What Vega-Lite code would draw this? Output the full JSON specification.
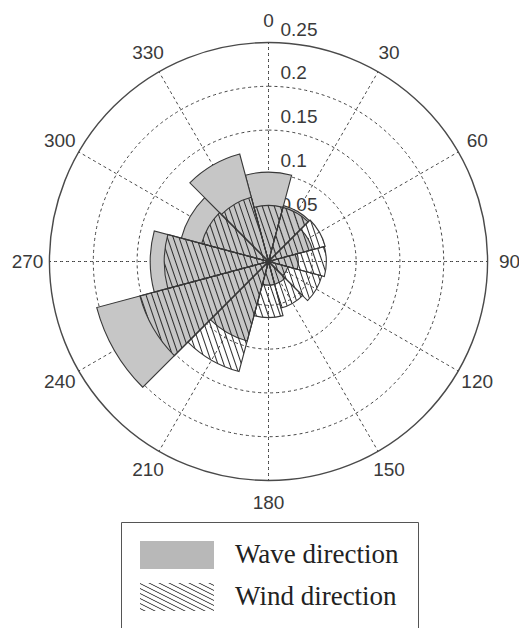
{
  "$schema": "https://vega.github.io/schema/vega-lite/v6.json",
  "autosize": {"type": "none"},
  "padding": {"left": 18, "top": 0, "right": 0, "bottom": 105},
  "width": 501,
  "height": 523,
  "background": "white",
  "view": {"stroke": null},
  "datasets": {
    "rings": [
      {"r": 0.05, "label": "0.05"},
      {"r": 0.1, "label": "0.1"},
      {"r": 0.15, "label": "0.15"},
      {"r": 0.2, "label": "0.2"},
      {"r": 0.25, "label": "0.25"}
    ],
    "spokes": [
      {"angle": 0, "label": "0"}, {"angle": 30, "label": "30"}, {"angle": 60, "label": "60"},
      {"angle": 90, "label": "90"}, {"angle": 120, "label": "120"}, {"angle": 150, "label": "150"},
      {"angle": 180, "label": "180"}, {"angle": 210, "label": "210"}, {"angle": 240, "label": "240"},
      {"angle": 270, "label": "270"}, {"angle": 300, "label": "300"}, {"angle": 330, "label": "330"}
    ],
    "rose": [
      {"series": "Wave direction", "dir": 0, "freq": 0.102},
      {"series": "Wave direction", "dir": 30, "freq": 0.066},
      {"series": "Wave direction", "dir": 60, "freq": 0.052},
      {"series": "Wave direction", "dir": 90, "freq": 0.034},
      {"series": "Wave direction", "dir": 120, "freq": 0.023},
      {"series": "Wave direction", "dir": 150, "freq": 0.027},
      {"series": "Wave direction", "dir": 180, "freq": 0.027},
      {"series": "Wave direction", "dir": 210, "freq": 0.094},
      {"series": "Wave direction", "dir": 240, "freq": 0.203},
      {"series": "Wave direction", "dir": 270, "freq": 0.135},
      {"series": "Wave direction", "dir": 300, "freq": 0.103},
      {"series": "Wave direction", "dir": 330, "freq": 0.127},
      {"series": "Wind direction", "dir": 0, "freq": 0.064},
      {"series": "Wind direction", "dir": 30, "freq": 0.064},
      {"series": "Wind direction", "dir": 60, "freq": 0.067},
      {"series": "Wind direction", "dir": 90, "freq": 0.066},
      {"series": "Wind direction", "dir": 120, "freq": 0.063},
      {"series": "Wind direction", "dir": 150, "freq": 0.055},
      {"series": "Wind direction", "dir": 180, "freq": 0.064},
      {"series": "Wind direction", "dir": 210, "freq": 0.13},
      {"series": "Wind direction", "dir": 240, "freq": 0.152},
      {"series": "Wind direction", "dir": 270, "freq": 0.119},
      {"series": "Wind direction", "dir": 300, "freq": 0.079},
      {"series": "Wind direction", "dir": 330, "freq": 0.076}
    ]
  },
  "layer": [
    {
      "data": {"name": "rings"},
      "transform": [{"filter": "datum.r < 0.24"}],
      "mark": {"type": "arc", "theta": 0, "theta2": 6.2832, "filled": false, "stroke": "#444", "strokeWidth": 1, "strokeDash": [3, 3]},
      "encoding": {
        "radius": {"field": "r", "type": "quantitative", "stack": null, "scale": {"type": "linear", "domain": [0, 0.25], "range": [0, 219], "zero": true, "nice": false}}
      }
    },
    {
      "data": {"name": "rings"},
      "transform": [{"filter": "datum.r > 0.24"}],
      "mark": {"type": "arc", "theta": 0, "theta2": 6.2832, "filled": false, "stroke": "#4a4a4a", "strokeWidth": 1.4},
      "encoding": {
        "radius": {"field": "r", "type": "quantitative", "stack": null, "scale": {"type": "linear", "domain": [0, 0.25], "range": [0, 219], "zero": true, "nice": false}}
      }
    },
    {
      "data": {"name": "spokes"},
      "mark": {"type": "arc", "filled": false, "stroke": "#444", "strokeWidth": 1, "strokeDash": [1.5, 4.5]},
      "encoding": {
        "theta": {"field": "angle", "type": "quantitative", "stack": null, "scale": {"domain": [0, 360], "range": [0, 6.283185307179586], "nice": false, "zero": true}},
        "theta2": {"field": "angle"},
        "radius": {"datum": 0.25, "type": "quantitative", "stack": null, "scale": {"type": "linear", "domain": [0, 0.25], "range": [0, 219], "zero": true, "nice": false}}
      }
    },
    {
      "data": {"name": "rings"},
      "mark": {"type": "text", "theta": 0, "align": "left", "baseline": "alphabetic", "dx": 12, "dy": -7, "font": "Liberation Sans", "fontSize": 19, "fill": "#3a3a3a"},
      "encoding": {
        "radius": {"field": "r", "type": "quantitative", "stack": null, "scale": {"type": "linear", "domain": [0, 0.25], "range": [0, 219], "zero": true, "nice": false}},
        "text": {"field": "label"}
      }
    },
    {
      "data": {"name": "spokes"},
      "mark": {"type": "text", "radius": 241, "align": "center", "baseline": "middle", "font": "Liberation Sans", "fontSize": 19, "fill": "#3a3a3a"},
      "encoding": {
        "theta": {"field": "angle", "type": "quantitative", "stack": null, "scale": {"domain": [0, 360], "range": [0, 6.283185307179586], "nice": false, "zero": true}},
        "text": {"field": "label"}
      }
    },
    {
      "data": {"name": "rose"},
      "transform": [{"filter": "datum.series === 'Wave direction'"}],
      "mark": {"type": "arc", "thetaOffset": -0.2618, "theta2Offset": 0.2618, "fill": "#c6c6c6", "stroke": "#383838", "strokeWidth": 1.1},
      "encoding": {
        "theta": {"field": "dir", "type": "quantitative", "stack": null, "scale": {"domain": [0, 360], "range": [0, 6.283185307179586], "nice": false, "zero": true}},
        "theta2": {"field": "dir"},
        "radius": {"field": "freq", "type": "quantitative", "stack": null, "scale": {"type": "linear", "domain": [0, 0.25], "range": [0, 219], "zero": true, "nice": false}}
      }
    },
    {
      "data": {"name": "rose"},
      "transform": [{"filter": "datum.series === 'Wind direction'"}],
      "mark": {"type": "arc", "thetaOffset": -0.2618, "theta2Offset": 0.2618, "stroke": "#383838", "strokeWidth": 1.1},
      "encoding": {
        "theta": {"field": "dir", "type": "quantitative", "stack": null, "scale": {"domain": [0, 360], "range": [0, 6.283185307179586], "nice": false, "zero": true}},
        "theta2": {"field": "dir"},
        "radius": {"field": "freq", "type": "quantitative", "stack": null, "scale": {"type": "linear", "domain": [0, 0.25], "range": [0, 219], "zero": true, "nice": false}},
        "fill": {
          "condition": [
            {"test": "datum.dir === 0 || datum.dir === 180", "value": {"gradient": "linear", "x1": 0, "y1": 1, "x2": 1.157, "y2": 0.239, "stops": [
              {"offset": 0.04, "color": "rgba(43,43,43,0)"}, {"offset": 0.0625, "color": "#2b2b2b"}, {"offset": 0.085, "color": "rgba(43,43,43,0)"},
              {"offset": 0.165, "color": "rgba(43,43,43,0)"}, {"offset": 0.1875, "color": "#2b2b2b"}, {"offset": 0.21, "color": "rgba(43,43,43,0)"},
              {"offset": 0.29, "color": "rgba(43,43,43,0)"}, {"offset": 0.3125, "color": "#2b2b2b"}, {"offset": 0.335, "color": "rgba(43,43,43,0)"},
              {"offset": 0.415, "color": "rgba(43,43,43,0)"}, {"offset": 0.4375, "color": "#2b2b2b"}, {"offset": 0.46, "color": "rgba(43,43,43,0)"},
              {"offset": 0.54, "color": "rgba(43,43,43,0)"}, {"offset": 0.5625, "color": "#2b2b2b"}, {"offset": 0.585, "color": "rgba(43,43,43,0)"},
              {"offset": 0.665, "color": "rgba(43,43,43,0)"}, {"offset": 0.6875, "color": "#2b2b2b"}, {"offset": 0.71, "color": "rgba(43,43,43,0)"},
              {"offset": 0.79, "color": "rgba(43,43,43,0)"}, {"offset": 0.8125, "color": "#2b2b2b"}, {"offset": 0.835, "color": "rgba(43,43,43,0)"},
              {"offset": 0.915, "color": "rgba(43,43,43,0)"}, {"offset": 0.9375, "color": "#2b2b2b"}, {"offset": 0.96, "color": "rgba(43,43,43,0)"}
            ]}},
            {"test": "datum.dir === 30 || datum.dir === 150", "value": {"gradient": "linear", "x1": 0, "y1": 1, "x2": 1.2045, "y2": 0.441, "stops": [
              {"offset": 0.0356, "color": "rgba(43,43,43,0)"}, {"offset": 0.0556, "color": "#2b2b2b"}, {"offset": 0.0756, "color": "rgba(43,43,43,0)"},
              {"offset": 0.1467, "color": "rgba(43,43,43,0)"}, {"offset": 0.1667, "color": "#2b2b2b"}, {"offset": 0.1867, "color": "rgba(43,43,43,0)"},
              {"offset": 0.2578, "color": "rgba(43,43,43,0)"}, {"offset": 0.2778, "color": "#2b2b2b"}, {"offset": 0.2978, "color": "rgba(43,43,43,0)"},
              {"offset": 0.3689, "color": "rgba(43,43,43,0)"}, {"offset": 0.3889, "color": "#2b2b2b"}, {"offset": 0.4089, "color": "rgba(43,43,43,0)"},
              {"offset": 0.48, "color": "rgba(43,43,43,0)"}, {"offset": 0.5, "color": "#2b2b2b"}, {"offset": 0.52, "color": "rgba(43,43,43,0)"},
              {"offset": 0.5911, "color": "rgba(43,43,43,0)"}, {"offset": 0.6111, "color": "#2b2b2b"}, {"offset": 0.6311, "color": "rgba(43,43,43,0)"},
              {"offset": 0.7022, "color": "rgba(43,43,43,0)"}, {"offset": 0.7222, "color": "#2b2b2b"}, {"offset": 0.7422, "color": "rgba(43,43,43,0)"},
              {"offset": 0.8133, "color": "rgba(43,43,43,0)"}, {"offset": 0.8333, "color": "#2b2b2b"}, {"offset": 0.8533, "color": "rgba(43,43,43,0)"},
              {"offset": 0.9244, "color": "rgba(43,43,43,0)"}, {"offset": 0.9444, "color": "#2b2b2b"}, {"offset": 0.9644, "color": "rgba(43,43,43,0)"}
            ]}},
            {"test": "datum.dir === 210", "value": {"gradient": "linear", "x1": 0, "y1": 1, "x2": 1.2045, "y2": 0.441, "stops": [
              {"offset": 0.016, "color": "rgba(43,43,43,0)"}, {"offset": 0.025, "color": "#2b2b2b"}, {"offset": 0.034, "color": "rgba(43,43,43,0)"},
              {"offset": 0.066, "color": "rgba(43,43,43,0)"}, {"offset": 0.075, "color": "#2b2b2b"}, {"offset": 0.084, "color": "rgba(43,43,43,0)"},
              {"offset": 0.116, "color": "rgba(43,43,43,0)"}, {"offset": 0.125, "color": "#2b2b2b"}, {"offset": 0.134, "color": "rgba(43,43,43,0)"},
              {"offset": 0.166, "color": "rgba(43,43,43,0)"}, {"offset": 0.175, "color": "#2b2b2b"}, {"offset": 0.184, "color": "rgba(43,43,43,0)"},
              {"offset": 0.216, "color": "rgba(43,43,43,0)"}, {"offset": 0.225, "color": "#2b2b2b"}, {"offset": 0.234, "color": "rgba(43,43,43,0)"},
              {"offset": 0.266, "color": "rgba(43,43,43,0)"}, {"offset": 0.275, "color": "#2b2b2b"}, {"offset": 0.284, "color": "rgba(43,43,43,0)"},
              {"offset": 0.316, "color": "rgba(43,43,43,0)"}, {"offset": 0.325, "color": "#2b2b2b"}, {"offset": 0.334, "color": "rgba(43,43,43,0)"},
              {"offset": 0.366, "color": "rgba(43,43,43,0)"}, {"offset": 0.375, "color": "#2b2b2b"}, {"offset": 0.384, "color": "rgba(43,43,43,0)"},
              {"offset": 0.416, "color": "rgba(43,43,43,0)"}, {"offset": 0.425, "color": "#2b2b2b"}, {"offset": 0.434, "color": "rgba(43,43,43,0)"},
              {"offset": 0.466, "color": "rgba(43,43,43,0)"}, {"offset": 0.475, "color": "#2b2b2b"}, {"offset": 0.484, "color": "rgba(43,43,43,0)"},
              {"offset": 0.516, "color": "rgba(43,43,43,0)"}, {"offset": 0.525, "color": "#2b2b2b"}, {"offset": 0.534, "color": "rgba(43,43,43,0)"},
              {"offset": 0.566, "color": "rgba(43,43,43,0)"}, {"offset": 0.575, "color": "#2b2b2b"}, {"offset": 0.584, "color": "rgba(43,43,43,0)"},
              {"offset": 0.616, "color": "rgba(43,43,43,0)"}, {"offset": 0.625, "color": "#2b2b2b"}, {"offset": 0.634, "color": "rgba(43,43,43,0)"},
              {"offset": 0.666, "color": "rgba(43,43,43,0)"}, {"offset": 0.675, "color": "#2b2b2b"}, {"offset": 0.684, "color": "rgba(43,43,43,0)"},
              {"offset": 0.716, "color": "rgba(43,43,43,0)"}, {"offset": 0.725, "color": "#2b2b2b"}, {"offset": 0.734, "color": "rgba(43,43,43,0)"},
              {"offset": 0.766, "color": "rgba(43,43,43,0)"}, {"offset": 0.775, "color": "#2b2b2b"}, {"offset": 0.784, "color": "rgba(43,43,43,0)"},
              {"offset": 0.816, "color": "rgba(43,43,43,0)"}, {"offset": 0.825, "color": "#2b2b2b"}, {"offset": 0.834, "color": "rgba(43,43,43,0)"},
              {"offset": 0.866, "color": "rgba(43,43,43,0)"}, {"offset": 0.875, "color": "#2b2b2b"}, {"offset": 0.884, "color": "rgba(43,43,43,0)"},
              {"offset": 0.916, "color": "rgba(43,43,43,0)"}, {"offset": 0.925, "color": "#2b2b2b"}, {"offset": 0.934, "color": "rgba(43,43,43,0)"},
              {"offset": 0.966, "color": "rgba(43,43,43,0)"}, {"offset": 0.975, "color": "#2b2b2b"}, {"offset": 0.984, "color": "rgba(43,43,43,0)"}
            ]}},
            {"test": "datum.dir === 330", "value": {"gradient": "linear", "x1": 0, "y1": 1, "x2": 1.2045, "y2": 0.441, "stops": [
              {"offset": 0.0267, "color": "rgba(43,43,43,0)"}, {"offset": 0.0417, "color": "#2b2b2b"}, {"offset": 0.0567, "color": "rgba(43,43,43,0)"},
              {"offset": 0.11, "color": "rgba(43,43,43,0)"}, {"offset": 0.125, "color": "#2b2b2b"}, {"offset": 0.14, "color": "rgba(43,43,43,0)"},
              {"offset": 0.1933, "color": "rgba(43,43,43,0)"}, {"offset": 0.2083, "color": "#2b2b2b"}, {"offset": 0.2233, "color": "rgba(43,43,43,0)"},
              {"offset": 0.2767, "color": "rgba(43,43,43,0)"}, {"offset": 0.2917, "color": "#2b2b2b"}, {"offset": 0.3067, "color": "rgba(43,43,43,0)"},
              {"offset": 0.36, "color": "rgba(43,43,43,0)"}, {"offset": 0.375, "color": "#2b2b2b"}, {"offset": 0.39, "color": "rgba(43,43,43,0)"},
              {"offset": 0.4433, "color": "rgba(43,43,43,0)"}, {"offset": 0.4583, "color": "#2b2b2b"}, {"offset": 0.4733, "color": "rgba(43,43,43,0)"},
              {"offset": 0.5267, "color": "rgba(43,43,43,0)"}, {"offset": 0.5417, "color": "#2b2b2b"}, {"offset": 0.5567, "color": "rgba(43,43,43,0)"},
              {"offset": 0.61, "color": "rgba(43,43,43,0)"}, {"offset": 0.625, "color": "#2b2b2b"}, {"offset": 0.64, "color": "rgba(43,43,43,0)"},
              {"offset": 0.6933, "color": "rgba(43,43,43,0)"}, {"offset": 0.7083, "color": "#2b2b2b"}, {"offset": 0.7233, "color": "rgba(43,43,43,0)"},
              {"offset": 0.7767, "color": "rgba(43,43,43,0)"}, {"offset": 0.7917, "color": "#2b2b2b"}, {"offset": 0.8067, "color": "rgba(43,43,43,0)"},
              {"offset": 0.86, "color": "rgba(43,43,43,0)"}, {"offset": 0.875, "color": "#2b2b2b"}, {"offset": 0.89, "color": "rgba(43,43,43,0)"},
              {"offset": 0.9433, "color": "rgba(43,43,43,0)"}, {"offset": 0.9583, "color": "#2b2b2b"}, {"offset": 0.9733, "color": "rgba(43,43,43,0)"}
            ]}},
            {"test": "datum.dir === 60 || datum.dir === 120", "value": {"gradient": "linear", "x1": 0, "y1": 1, "x2": 1.176, "y2": 0.707, "stops": [
              {"offset": 0.0267, "color": "rgba(43,43,43,0)"}, {"offset": 0.0417, "color": "#2b2b2b"}, {"offset": 0.0567, "color": "rgba(43,43,43,0)"},
              {"offset": 0.11, "color": "rgba(43,43,43,0)"}, {"offset": 0.125, "color": "#2b2b2b"}, {"offset": 0.14, "color": "rgba(43,43,43,0)"},
              {"offset": 0.1933, "color": "rgba(43,43,43,0)"}, {"offset": 0.2083, "color": "#2b2b2b"}, {"offset": 0.2233, "color": "rgba(43,43,43,0)"},
              {"offset": 0.2767, "color": "rgba(43,43,43,0)"}, {"offset": 0.2917, "color": "#2b2b2b"}, {"offset": 0.3067, "color": "rgba(43,43,43,0)"},
              {"offset": 0.36, "color": "rgba(43,43,43,0)"}, {"offset": 0.375, "color": "#2b2b2b"}, {"offset": 0.39, "color": "rgba(43,43,43,0)"},
              {"offset": 0.4433, "color": "rgba(43,43,43,0)"}, {"offset": 0.4583, "color": "#2b2b2b"}, {"offset": 0.4733, "color": "rgba(43,43,43,0)"},
              {"offset": 0.5267, "color": "rgba(43,43,43,0)"}, {"offset": 0.5417, "color": "#2b2b2b"}, {"offset": 0.5567, "color": "rgba(43,43,43,0)"},
              {"offset": 0.61, "color": "rgba(43,43,43,0)"}, {"offset": 0.625, "color": "#2b2b2b"}, {"offset": 0.64, "color": "rgba(43,43,43,0)"},
              {"offset": 0.6933, "color": "rgba(43,43,43,0)"}, {"offset": 0.7083, "color": "#2b2b2b"}, {"offset": 0.7233, "color": "rgba(43,43,43,0)"},
              {"offset": 0.7767, "color": "rgba(43,43,43,0)"}, {"offset": 0.7917, "color": "#2b2b2b"}, {"offset": 0.8067, "color": "rgba(43,43,43,0)"},
              {"offset": 0.86, "color": "rgba(43,43,43,0)"}, {"offset": 0.875, "color": "#2b2b2b"}, {"offset": 0.89, "color": "rgba(43,43,43,0)"},
              {"offset": 0.9433, "color": "rgba(43,43,43,0)"}, {"offset": 0.9583, "color": "#2b2b2b"}, {"offset": 0.9733, "color": "rgba(43,43,43,0)"}
            ]}},
            {"test": "datum.dir === 240", "value": {"gradient": "linear", "x1": 0, "y1": 1, "x2": 1.176, "y2": 0.707, "stops": [
              {"offset": 0.0119, "color": "rgba(43,43,43,0)"}, {"offset": 0.0185, "color": "#2b2b2b"}, {"offset": 0.0252, "color": "rgba(43,43,43,0)"},
              {"offset": 0.0489, "color": "rgba(43,43,43,0)"}, {"offset": 0.0556, "color": "#2b2b2b"}, {"offset": 0.0622, "color": "rgba(43,43,43,0)"},
              {"offset": 0.0859, "color": "rgba(43,43,43,0)"}, {"offset": 0.0926, "color": "#2b2b2b"}, {"offset": 0.0993, "color": "rgba(43,43,43,0)"},
              {"offset": 0.123, "color": "rgba(43,43,43,0)"}, {"offset": 0.1296, "color": "#2b2b2b"}, {"offset": 0.1363, "color": "rgba(43,43,43,0)"},
              {"offset": 0.16, "color": "rgba(43,43,43,0)"}, {"offset": 0.1667, "color": "#2b2b2b"}, {"offset": 0.1733, "color": "rgba(43,43,43,0)"},
              {"offset": 0.197, "color": "rgba(43,43,43,0)"}, {"offset": 0.2037, "color": "#2b2b2b"}, {"offset": 0.2104, "color": "rgba(43,43,43,0)"},
              {"offset": 0.2341, "color": "rgba(43,43,43,0)"}, {"offset": 0.2407, "color": "#2b2b2b"}, {"offset": 0.2474, "color": "rgba(43,43,43,0)"},
              {"offset": 0.2711, "color": "rgba(43,43,43,0)"}, {"offset": 0.2778, "color": "#2b2b2b"}, {"offset": 0.2844, "color": "rgba(43,43,43,0)"},
              {"offset": 0.3081, "color": "rgba(43,43,43,0)"}, {"offset": 0.3148, "color": "#2b2b2b"}, {"offset": 0.3215, "color": "rgba(43,43,43,0)"},
              {"offset": 0.3452, "color": "rgba(43,43,43,0)"}, {"offset": 0.3519, "color": "#2b2b2b"}, {"offset": 0.3585, "color": "rgba(43,43,43,0)"},
              {"offset": 0.3822, "color": "rgba(43,43,43,0)"}, {"offset": 0.3889, "color": "#2b2b2b"}, {"offset": 0.3956, "color": "rgba(43,43,43,0)"},
              {"offset": 0.4193, "color": "rgba(43,43,43,0)"}, {"offset": 0.4259, "color": "#2b2b2b"}, {"offset": 0.4326, "color": "rgba(43,43,43,0)"},
              {"offset": 0.4563, "color": "rgba(43,43,43,0)"}, {"offset": 0.463, "color": "#2b2b2b"}, {"offset": 0.4696, "color": "rgba(43,43,43,0)"},
              {"offset": 0.4933, "color": "rgba(43,43,43,0)"}, {"offset": 0.5, "color": "#2b2b2b"}, {"offset": 0.5067, "color": "rgba(43,43,43,0)"},
              {"offset": 0.5304, "color": "rgba(43,43,43,0)"}, {"offset": 0.537, "color": "#2b2b2b"}, {"offset": 0.5437, "color": "rgba(43,43,43,0)"},
              {"offset": 0.5674, "color": "rgba(43,43,43,0)"}, {"offset": 0.5741, "color": "#2b2b2b"}, {"offset": 0.5807, "color": "rgba(43,43,43,0)"},
              {"offset": 0.6044, "color": "rgba(43,43,43,0)"}, {"offset": 0.6111, "color": "#2b2b2b"}, {"offset": 0.6178, "color": "rgba(43,43,43,0)"},
              {"offset": 0.6415, "color": "rgba(43,43,43,0)"}, {"offset": 0.6481, "color": "#2b2b2b"}, {"offset": 0.6548, "color": "rgba(43,43,43,0)"},
              {"offset": 0.6785, "color": "rgba(43,43,43,0)"}, {"offset": 0.6852, "color": "#2b2b2b"}, {"offset": 0.6919, "color": "rgba(43,43,43,0)"},
              {"offset": 0.7156, "color": "rgba(43,43,43,0)"}, {"offset": 0.7222, "color": "#2b2b2b"}, {"offset": 0.7289, "color": "rgba(43,43,43,0)"},
              {"offset": 0.7526, "color": "rgba(43,43,43,0)"}, {"offset": 0.7593, "color": "#2b2b2b"}, {"offset": 0.7659, "color": "rgba(43,43,43,0)"},
              {"offset": 0.7896, "color": "rgba(43,43,43,0)"}, {"offset": 0.7963, "color": "#2b2b2b"}, {"offset": 0.803, "color": "rgba(43,43,43,0)"},
              {"offset": 0.8267, "color": "rgba(43,43,43,0)"}, {"offset": 0.8333, "color": "#2b2b2b"}, {"offset": 0.84, "color": "rgba(43,43,43,0)"},
              {"offset": 0.8637, "color": "rgba(43,43,43,0)"}, {"offset": 0.8704, "color": "#2b2b2b"}, {"offset": 0.877, "color": "rgba(43,43,43,0)"},
              {"offset": 0.9007, "color": "rgba(43,43,43,0)"}, {"offset": 0.9074, "color": "#2b2b2b"}, {"offset": 0.9141, "color": "rgba(43,43,43,0)"},
              {"offset": 0.9378, "color": "rgba(43,43,43,0)"}, {"offset": 0.9444, "color": "#2b2b2b"}, {"offset": 0.9511, "color": "rgba(43,43,43,0)"},
              {"offset": 0.9748, "color": "rgba(43,43,43,0)"}, {"offset": 0.9815, "color": "#2b2b2b"}, {"offset": 0.9881, "color": "rgba(43,43,43,0)"}
            ]}},
            {"test": "datum.dir === 300", "value": {"gradient": "linear", "x1": 0, "y1": 1, "x2": 1.176, "y2": 0.707, "stops": [
              {"offset": 0.0229, "color": "rgba(43,43,43,0)"}, {"offset": 0.0357, "color": "#2b2b2b"}, {"offset": 0.0486, "color": "rgba(43,43,43,0)"},
              {"offset": 0.0943, "color": "rgba(43,43,43,0)"}, {"offset": 0.1071, "color": "#2b2b2b"}, {"offset": 0.12, "color": "rgba(43,43,43,0)"},
              {"offset": 0.1657, "color": "rgba(43,43,43,0)"}, {"offset": 0.1786, "color": "#2b2b2b"}, {"offset": 0.1914, "color": "rgba(43,43,43,0)"},
              {"offset": 0.2371, "color": "rgba(43,43,43,0)"}, {"offset": 0.25, "color": "#2b2b2b"}, {"offset": 0.2629, "color": "rgba(43,43,43,0)"},
              {"offset": 0.3086, "color": "rgba(43,43,43,0)"}, {"offset": 0.3214, "color": "#2b2b2b"}, {"offset": 0.3343, "color": "rgba(43,43,43,0)"},
              {"offset": 0.38, "color": "rgba(43,43,43,0)"}, {"offset": 0.3929, "color": "#2b2b2b"}, {"offset": 0.4057, "color": "rgba(43,43,43,0)"},
              {"offset": 0.4514, "color": "rgba(43,43,43,0)"}, {"offset": 0.4643, "color": "#2b2b2b"}, {"offset": 0.4771, "color": "rgba(43,43,43,0)"},
              {"offset": 0.5229, "color": "rgba(43,43,43,0)"}, {"offset": 0.5357, "color": "#2b2b2b"}, {"offset": 0.5486, "color": "rgba(43,43,43,0)"},
              {"offset": 0.5943, "color": "rgba(43,43,43,0)"}, {"offset": 0.6071, "color": "#2b2b2b"}, {"offset": 0.62, "color": "rgba(43,43,43,0)"},
              {"offset": 0.6657, "color": "rgba(43,43,43,0)"}, {"offset": 0.6786, "color": "#2b2b2b"}, {"offset": 0.6914, "color": "rgba(43,43,43,0)"},
              {"offset": 0.7371, "color": "rgba(43,43,43,0)"}, {"offset": 0.75, "color": "#2b2b2b"}, {"offset": 0.7629, "color": "rgba(43,43,43,0)"},
              {"offset": 0.8086, "color": "rgba(43,43,43,0)"}, {"offset": 0.8214, "color": "#2b2b2b"}, {"offset": 0.8343, "color": "rgba(43,43,43,0)"},
              {"offset": 0.88, "color": "rgba(43,43,43,0)"}, {"offset": 0.8929, "color": "#2b2b2b"}, {"offset": 0.9057, "color": "rgba(43,43,43,0)"},
              {"offset": 0.9514, "color": "rgba(43,43,43,0)"}, {"offset": 0.9643, "color": "#2b2b2b"}, {"offset": 0.9771, "color": "rgba(43,43,43,0)"}
            ]}},
            {"test": "datum.dir === 90", "value": {"gradient": "linear", "x1": 0, "y1": 1, "x2": 1.141, "y2": 0.799, "stops": [
              {"offset": 0.0291, "color": "rgba(43,43,43,0)"}, {"offset": 0.0455, "color": "#2b2b2b"}, {"offset": 0.0618, "color": "rgba(43,43,43,0)"},
              {"offset": 0.12, "color": "rgba(43,43,43,0)"}, {"offset": 0.1364, "color": "#2b2b2b"}, {"offset": 0.1527, "color": "rgba(43,43,43,0)"},
              {"offset": 0.2109, "color": "rgba(43,43,43,0)"}, {"offset": 0.2273, "color": "#2b2b2b"}, {"offset": 0.2436, "color": "rgba(43,43,43,0)"},
              {"offset": 0.3018, "color": "rgba(43,43,43,0)"}, {"offset": 0.3182, "color": "#2b2b2b"}, {"offset": 0.3345, "color": "rgba(43,43,43,0)"},
              {"offset": 0.3927, "color": "rgba(43,43,43,0)"}, {"offset": 0.4091, "color": "#2b2b2b"}, {"offset": 0.4255, "color": "rgba(43,43,43,0)"},
              {"offset": 0.4836, "color": "rgba(43,43,43,0)"}, {"offset": 0.5, "color": "#2b2b2b"}, {"offset": 0.5164, "color": "rgba(43,43,43,0)"},
              {"offset": 0.5745, "color": "rgba(43,43,43,0)"}, {"offset": 0.5909, "color": "#2b2b2b"}, {"offset": 0.6073, "color": "rgba(43,43,43,0)"},
              {"offset": 0.6655, "color": "rgba(43,43,43,0)"}, {"offset": 0.6818, "color": "#2b2b2b"}, {"offset": 0.6982, "color": "rgba(43,43,43,0)"},
              {"offset": 0.7564, "color": "rgba(43,43,43,0)"}, {"offset": 0.7727, "color": "#2b2b2b"}, {"offset": 0.7891, "color": "rgba(43,43,43,0)"},
              {"offset": 0.8473, "color": "rgba(43,43,43,0)"}, {"offset": 0.8636, "color": "#2b2b2b"}, {"offset": 0.88, "color": "rgba(43,43,43,0)"},
              {"offset": 0.9382, "color": "rgba(43,43,43,0)"}, {"offset": 0.9545, "color": "#2b2b2b"}, {"offset": 0.9709, "color": "rgba(43,43,43,0)"}
            ]}},
            {"test": "datum.dir === 270", "value": {"gradient": "linear", "x1": 0, "y1": 1, "x2": 1.141, "y2": 0.799, "stops": [
              {"offset": 0.0152, "color": "rgba(43,43,43,0)"}, {"offset": 0.0238, "color": "#2b2b2b"}, {"offset": 0.0324, "color": "rgba(43,43,43,0)"},
              {"offset": 0.0629, "color": "rgba(43,43,43,0)"}, {"offset": 0.0714, "color": "#2b2b2b"}, {"offset": 0.08, "color": "rgba(43,43,43,0)"},
              {"offset": 0.1105, "color": "rgba(43,43,43,0)"}, {"offset": 0.119, "color": "#2b2b2b"}, {"offset": 0.1276, "color": "rgba(43,43,43,0)"},
              {"offset": 0.1581, "color": "rgba(43,43,43,0)"}, {"offset": 0.1667, "color": "#2b2b2b"}, {"offset": 0.1752, "color": "rgba(43,43,43,0)"},
              {"offset": 0.2057, "color": "rgba(43,43,43,0)"}, {"offset": 0.2143, "color": "#2b2b2b"}, {"offset": 0.2229, "color": "rgba(43,43,43,0)"},
              {"offset": 0.2533, "color": "rgba(43,43,43,0)"}, {"offset": 0.2619, "color": "#2b2b2b"}, {"offset": 0.2705, "color": "rgba(43,43,43,0)"},
              {"offset": 0.301, "color": "rgba(43,43,43,0)"}, {"offset": 0.3095, "color": "#2b2b2b"}, {"offset": 0.3181, "color": "rgba(43,43,43,0)"},
              {"offset": 0.3486, "color": "rgba(43,43,43,0)"}, {"offset": 0.3571, "color": "#2b2b2b"}, {"offset": 0.3657, "color": "rgba(43,43,43,0)"},
              {"offset": 0.3962, "color": "rgba(43,43,43,0)"}, {"offset": 0.4048, "color": "#2b2b2b"}, {"offset": 0.4133, "color": "rgba(43,43,43,0)"},
              {"offset": 0.4438, "color": "rgba(43,43,43,0)"}, {"offset": 0.4524, "color": "#2b2b2b"}, {"offset": 0.461, "color": "rgba(43,43,43,0)"},
              {"offset": 0.4914, "color": "rgba(43,43,43,0)"}, {"offset": 0.5, "color": "#2b2b2b"}, {"offset": 0.5086, "color": "rgba(43,43,43,0)"},
              {"offset": 0.539, "color": "rgba(43,43,43,0)"}, {"offset": 0.5476, "color": "#2b2b2b"}, {"offset": 0.5562, "color": "rgba(43,43,43,0)"},
              {"offset": 0.5867, "color": "rgba(43,43,43,0)"}, {"offset": 0.5952, "color": "#2b2b2b"}, {"offset": 0.6038, "color": "rgba(43,43,43,0)"},
              {"offset": 0.6343, "color": "rgba(43,43,43,0)"}, {"offset": 0.6429, "color": "#2b2b2b"}, {"offset": 0.6514, "color": "rgba(43,43,43,0)"},
              {"offset": 0.6819, "color": "rgba(43,43,43,0)"}, {"offset": 0.6905, "color": "#2b2b2b"}, {"offset": 0.699, "color": "rgba(43,43,43,0)"},
              {"offset": 0.7295, "color": "rgba(43,43,43,0)"}, {"offset": 0.7381, "color": "#2b2b2b"}, {"offset": 0.7467, "color": "rgba(43,43,43,0)"},
              {"offset": 0.7771, "color": "rgba(43,43,43,0)"}, {"offset": 0.7857, "color": "#2b2b2b"}, {"offset": 0.7943, "color": "rgba(43,43,43,0)"},
              {"offset": 0.8248, "color": "rgba(43,43,43,0)"}, {"offset": 0.8333, "color": "#2b2b2b"}, {"offset": 0.8419, "color": "rgba(43,43,43,0)"},
              {"offset": 0.8724, "color": "rgba(43,43,43,0)"}, {"offset": 0.881, "color": "#2b2b2b"}, {"offset": 0.8895, "color": "rgba(43,43,43,0)"},
              {"offset": 0.92, "color": "rgba(43,43,43,0)"}, {"offset": 0.9286, "color": "#2b2b2b"}, {"offset": 0.9371, "color": "rgba(43,43,43,0)"},
              {"offset": 0.9676, "color": "rgba(43,43,43,0)"}, {"offset": 0.9762, "color": "#2b2b2b"}, {"offset": 0.9848, "color": "rgba(43,43,43,0)"}
            ]}}
          ],
          "field": "series",
          "type": "nominal",
          "scale": {
            "domain": ["Wave direction", "Wind direction"],
            "range": ["#b8b8b8", {"expr": "{gradient:'linear',x1:0,y1:1,x2:1.1174,y2:0.1553,stops:[{offset:0.0246,color:'rgba(43,43,43,0)'},{offset:0.0385,color:'#2b2b2b'},{offset:0.0523,color:'rgba(43,43,43,0)'},{offset:0.1015,color:'rgba(43,43,43,0)'},{offset:0.1154,color:'#2b2b2b'},{offset:0.1292,color:'rgba(43,43,43,0)'},{offset:0.1785,color:'rgba(43,43,43,0)'},{offset:0.1923,color:'#2b2b2b'},{offset:0.2062,color:'rgba(43,43,43,0)'},{offset:0.2554,color:'rgba(43,43,43,0)'},{offset:0.2692,color:'#2b2b2b'},{offset:0.2831,color:'rgba(43,43,43,0)'},{offset:0.3323,color:'rgba(43,43,43,0)'},{offset:0.3462,color:'#2b2b2b'},{offset:0.36,color:'rgba(43,43,43,0)'},{offset:0.4092,color:'rgba(43,43,43,0)'},{offset:0.4231,color:'#2b2b2b'},{offset:0.4369,color:'rgba(43,43,43,0)'},{offset:0.4862,color:'rgba(43,43,43,0)'},{offset:0.5,color:'#2b2b2b'},{offset:0.5138,color:'rgba(43,43,43,0)'},{offset:0.5631,color:'rgba(43,43,43,0)'},{offset:0.5769,color:'#2b2b2b'},{offset:0.5908,color:'rgba(43,43,43,0)'},{offset:0.64,color:'rgba(43,43,43,0)'},{offset:0.6538,color:'#2b2b2b'},{offset:0.6677,color:'rgba(43,43,43,0)'},{offset:0.7169,color:'rgba(43,43,43,0)'},{offset:0.7308,color:'#2b2b2b'},{offset:0.7446,color:'rgba(43,43,43,0)'},{offset:0.7938,color:'rgba(43,43,43,0)'},{offset:0.8077,color:'#2b2b2b'},{offset:0.8215,color:'rgba(43,43,43,0)'},{offset:0.8708,color:'rgba(43,43,43,0)'},{offset:0.8846,color:'#2b2b2b'},{offset:0.8985,color:'rgba(43,43,43,0)'},{offset:0.9477,color:'rgba(43,43,43,0)'},{offset:0.9615,color:'#2b2b2b'},{offset:0.9754,color:'rgba(43,43,43,0)'}]}"}]
          },
          "legend": {
            "title": null,
            "orient": "none",
            "legendX": 103,
            "legendY": 522,
            "direction": "vertical",
            "symbolType": "M-2.643,-1H2.643V1H-2.643Z",
            "symbolSize": 784,
            "symbolStrokeWidth": 0,
            "symbolOffset": 23,
            "labelFont": "Liberation Serif",
            "labelFontSize": 27,
            "labelColor": "#222",
            "labelOffset": 44,
            "labelLimit": 0,
            "rowPadding": 14,
            "padding": 19,
            "strokeColor": "#555"
          }
        }
      }
    }
  ]
}
